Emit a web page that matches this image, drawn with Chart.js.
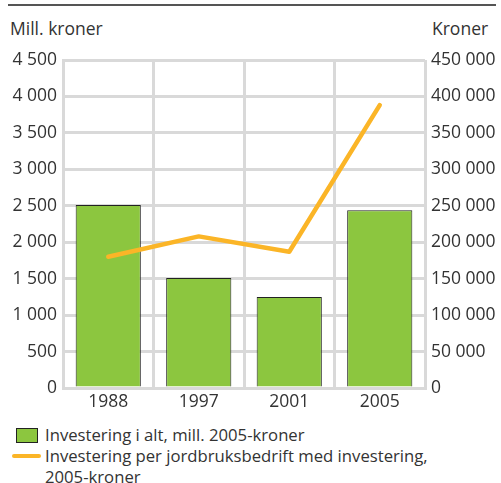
<!DOCTYPE html>
<html>
<head>
<meta charset="utf-8">
<script src="https://cdn.jsdelivr.net/npm/chart.js@4/dist/chart.umd.min.js"></script>
<style>
	body { margin: 0; background: #fff; }
	#wrap { position: relative; width: 501px; height: 483px; font-family: 'Open Sans', sans-serif; color: #333; font-size: 17.5px; }
	#chart { position: absolute; left: 0; top: 0; }
	.rule { position: absolute; left: 8px; top: 4px; width: 488px; height: 2px; background: #555; }
	.title { position: absolute; top: 16px; line-height: 24px; }
	.legend { position: absolute; left: 0; top: 424px; width: 501px; font-size: 16.7px; }
	.item { position: relative; padding-left: 45px; line-height: 21px; }
	.box { position: absolute; left: 16px; top: 4px; width: 20px; height: 13px; background: #8cc63f; border: 1px solid #222; }
	.stroke { position: absolute; left: 12px; top: 9px; width: 29px; height: 4px; border-radius: 2px; background: #fbb527; }
</style>
</head>
<body>
<div id="wrap">
	<div class="rule"></div>
	<div class="title" style="left:10px">Mill. kroner</div>
	<div class="title" style="left:432px">Kroner</div>
	<canvas id="chart" width="501" height="420"></canvas>
	<div class="legend">
		<div class="item"><span class="box"></span>Investering i alt, mill. 2005-kroner</div>
		<div class="item"><span class="stroke"></span>Investering per jordbruksbedrift med investering,<br>2005-kroner</div>
	</div>
</div>
<script>
'use strict';

var years = ['1988', '1997', '2001', '2005'];
var totalInvestment = [2510, 1510, 1250, 2440];          // mill. 2005-kroner
var perFarmInvestment = [180000, 208000, 187000, 388000]; // 2005-kroner
var seriesNames = [
	'Investering i alt, mill. 2005-kroner',
	'Investering per jordbruksbedrift med investering, 2005-kroner'
];

var gridColor = '#d9d9d9';
var textColor = '#333';
var font = { family: 'Open Sans', size: 17.5 };

function spaced(value) {
	return String(value).replace(/\B(?=(\d{3})+(?!\d))/g, ' ');
}

var data = {
	labels: years,
	datasets: [
		{
			type: 'line',
			label: seriesNames[1],
			data: perFarmInvestment,
			yAxisID: 'y1',
			borderColor: '#fbb527',
			borderWidth: 4.5,
			borderCapStyle: 'round',
			borderJoinStyle: 'round',
			pointRadius: 0,
			tension: 0,
			order: 1
		},
		{
			type: 'bar',
			label: seriesNames[0],
			data: totalInvestment,
			yAxisID: 'y',
			backgroundColor: '#8cc63f',
			borderColor: '#222',
			borderWidth: 1,
			categoryPercentage: 1,
			barPercentage: 0.72,
			order: 2
		}
	]
};

var config = {
	data: data,
	options: {
		responsive: false,
		animation: false,
		devicePixelRatio: 1,
		layout: { padding: { top: 60, left: 0, right: 0, bottom: 0 } },
		plugins: {
			legend: { display: false },
			tooltip: { enabled: false }
		},
		scales: {
			x: {
				grid: { color: gridColor, lineWidth: 3, drawTicks: false, offset: true },
				border: { color: gridColor, width: 3 },
				ticks: { color: textColor, font: font, padding: 4 },
				afterFit: function (scale) { scale.height = 32; }
			},
			y: {
				position: 'left',
				min: 0,
				max: 4500,
				grid: { color: gridColor, lineWidth: 3, drawTicks: false },
				border: { color: gridColor, width: 3 },
				ticks: {
					stepSize: 500,
					color: textColor,
					font: font,
					padding: 6,
					callback: function (v) { return spaced(v); }
				},
				afterFit: function (scale) { scale.width = 63; }
			},
			y1: {
				position: 'right',
				min: 0,
				max: 450000,
				grid: { display: false, drawTicks: false },
				border: { display: false },
				ticks: {
					stepSize: 50000,
					color: textColor,
					font: font,
					padding: 6,
					callback: function (v) { return spaced(v); }
				},
				afterFit: function (scale) { scale.width = 76; }
			}
		}
	}
};

var investmentChart = new Chart(document.getElementById('chart'), config);
</script>
</body>
</html>
